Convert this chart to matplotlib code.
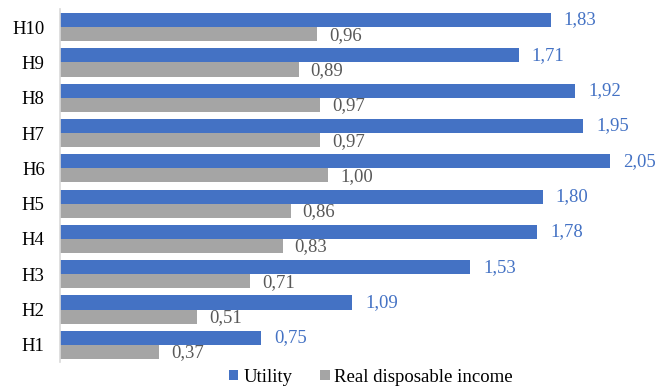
import numpy as np
import matplotlib
matplotlib.use("Agg")
import matplotlib.pyplot as plt

plt.rcParams['font.family'] = ['Liberation Serif', 'DejaVu Serif']

groups = ['H1', 'H2', 'H3', 'H4', 'H5', 'H6', 'H7', 'H8', 'H9', 'H10']
utility = [0.75, 1.09, 1.53, 1.78, 1.80, 2.05, 1.95, 1.92, 1.71, 1.83]
income = [0.37, 0.51, 0.71, 0.83, 0.86, 1.00, 0.97, 0.97, 0.89, 0.96]

blue = '#4472C4'
grey = '#A5A5A5'

fig = plt.figure(figsize=(6.57, 3.87), dpi=100)
ax = fig.add_axes([60 / 657, 1 - 362.5 / 387, 590 / 657, 353 / 387])

y = np.arange(len(groups))
h = 0.4
b1 = ax.barh(y + h / 2, utility, height=h, color=blue, label='Utility')
b2 = ax.barh(y - h / 2, income, height=h, color=grey, label='Real disposable income')

def fmt(v):
    return f"{v:.2f}".replace('.', ',')

for bar, v in zip(b1, utility):
    ax.annotate(fmt(v), (v, bar.get_y() + bar.get_height() / 2), xytext=(13, 0),
                textcoords='offset pixels', va='center', ha='left',
                fontsize=13.5, color=blue)
for bar, v in zip(b2, income):
    ax.annotate(fmt(v), (v, bar.get_y() + bar.get_height() / 2), xytext=(12, -1),
                textcoords='offset pixels', va='center', ha='left',
                fontsize=13.5, color='#595959')

ax.set_xlim(0, 2.2)
ax.set_ylim(-0.5, 9.5)
ax.set_yticks(y)
ax.set_yticklabels(groups, fontsize=13.5)
ax.set_xticks([])
ax.tick_params(axis='y', length=0, pad=11)
for s in ['top', 'right', 'bottom']:
    ax.spines[s].set_visible(False)
ax.spines['left'].set_color('#D9D9D9')
ax.spines['left'].set_linewidth(1.2)

fig.legend(handles=[b1, b2], loc='center', bbox_to_anchor=(371 / 657, 1 - 377 / 387),
           ncol=2, frameon=False, fontsize=13.5, handlelength=0.5, handleheight=0.5,
           handletextpad=0.25, columnspacing=1.5, borderpad=0)

fig.savefig('out.png', dpi=100)
